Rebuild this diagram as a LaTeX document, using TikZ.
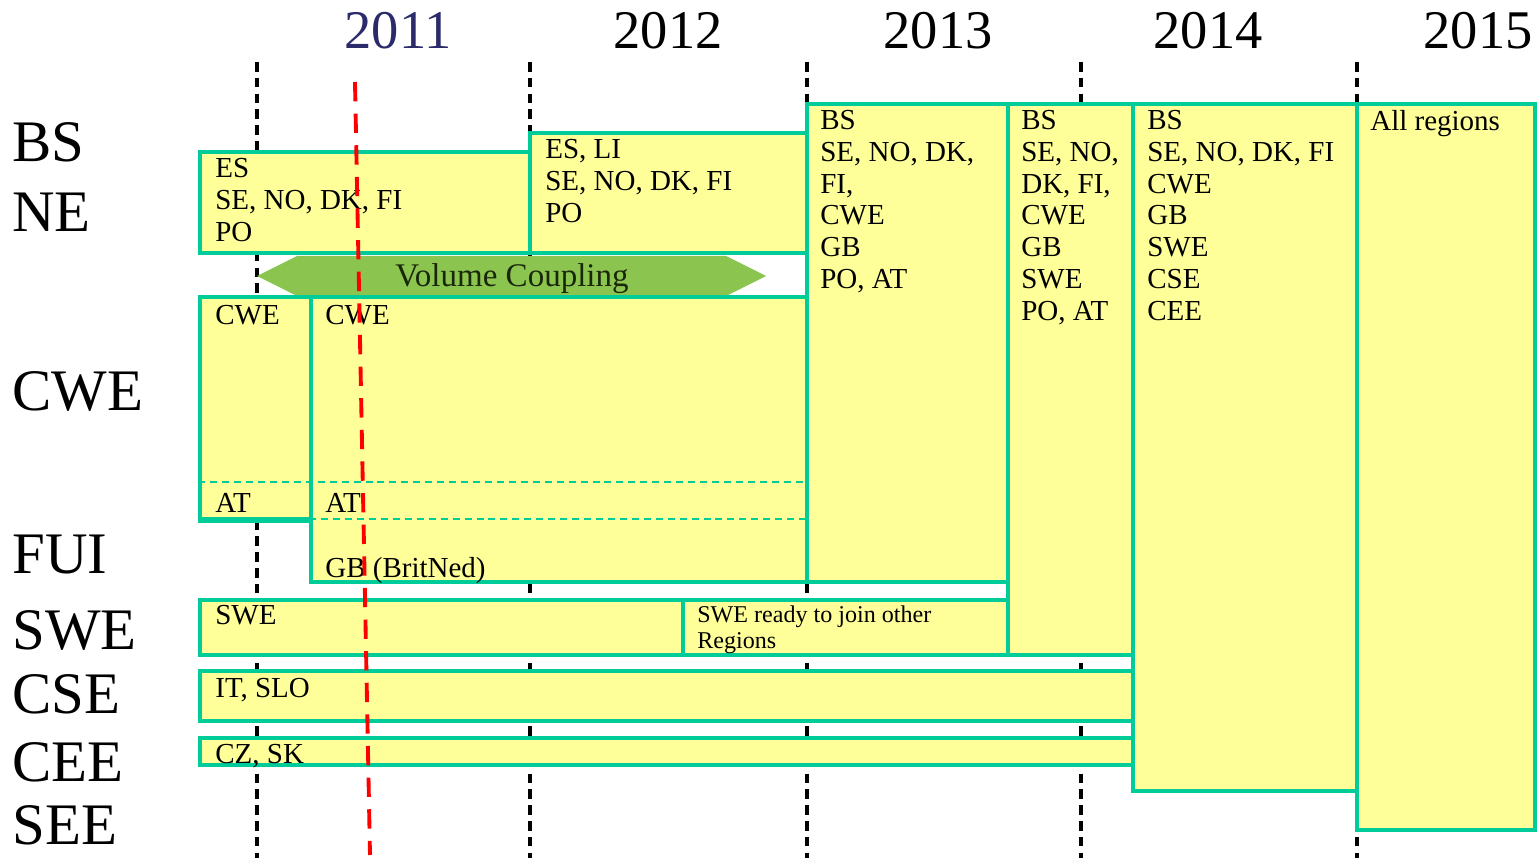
\documentclass[tikz,border=0pt]{standalone}
\usepackage{fontspec}
\setmainfont{Liberation Serif}
\usetikzlibrary{fit}
\definecolor{yel}{HTML}{FFFF99}
\definecolor{tealb}{HTML}{00CC99}
\definecolor{vcgreen}{HTML}{8CC450}
\definecolor{navy}{HTML}{2B2B6B}
\tikzset{
  box/.style={draw=tealb, fill=yel, line width=2pt, inner sep=0pt},
  txt/.style={anchor=north west, inner sep=0pt, align=left, font=\fontsize{16.5}{18.1}\selectfont},
  smalltxt/.style={anchor=north west, inner sep=0pt, align=left, font=\fontsize{13.7}{15.3}\selectfont},
  rowlab/.style={anchor=west, inner sep=0pt, font=\fontsize{33.5}{36}\selectfont},
  yearlab/.style={anchor=center, inner sep=0pt, font=\fontsize{31}{36}\selectfont},
  yearline/.style={line width=2.1pt, dash pattern=on 5.5pt off 3.5pt},
  tealdash/.style={draw=tealb, line width=1pt, dash pattern=on 4pt off 2.8pt},
  redline/.style={draw=red, line width=2.2pt, dash pattern=on 11pt off 7pt}
}
\begin{document}
\begin{tikzpicture}[x=0.02cm, y=-0.02cm]
\useasboundingbox[fill=white] (0,0) rectangle (1539,858);

% year labels
\node[yearlab, text=navy] (y11) at (398,31) {2011};
\node[yearlab] (y12) at (668,31) {2012};
\node[yearlab] (y13) at (938,31) {2013};
\node[yearlab] (y14) at (1208,31) {2014};
\node[yearlab] (y15) at (1478,31) {2015};

% year boundaries
\foreach \xx/\nm in {257/a,530/b,807/c,1081/d,1357/e}{
  \coordinate (t\nm) at (\xx,62);
  \coordinate (b\nm) at (\xx,858);
  \draw[yearline] (t\nm) -- (b\nm);
}

% row labels
\node[rowlab] (lbs) at (12,142) {BS};
\node[rowlab] (lne) at (12,212) {NE};
\node[rowlab] (lcwe) at (12,391) {CWE};
\node[rowlab] (lfui) at (12,555) {FUI};
\node[rowlab] (lswe) at (12,630) {SWE};
\node[rowlab] (lcse) at (12,694) {CSE};
\node[rowlab] (lcee) at (12,762) {CEE};
\node[rowlab] (lsee) at (12,825) {SEE};

% volume coupling arrow
\fill[vcgreen] (257,276) -- (297,256) -- (726,256) -- (766,276) -- (726,296) -- (297,296) -- cycle;
\node[anchor=base, inner sep=0pt, font=\fontsize{18.8}{20}\selectfont, text={rgb,255:red,26;green,40;blue,10}] (vc) at (512,287) {Volume Coupling};

% boxes
\node[box, fit={(807,104)(1008,582)}] (c13) {};
\node[box, fit={(1008,104)(1133,655)}] (c14a) {};
\node[box, fit={(1133,104)(1357,791)}] (c14b) {};
\node[box, fit={(1357,104)(1535,830)}] (c15) {};
\node[box, fit={(200,152)(530,253)}] (ne11) {};
\node[box, fit={(530,133)(807,253)}] (ne12) {};
\node[box, fit={(311,297)(807,582)}] (cwe12) {};
\node[box, fit={(200,297)(311,519)}] (cwe11) {};
\node[box, fit={(200,600)(683,655)}] (swe1) {};
\node[box, fit={(683,600)(1008,655)}] (swe2) {};
\node[box, fit={(200,671)(1133,721)}] (cse) {};
\node[box, fit={(200,738)(1133,765)}] (cee) {};

\draw[tealdash] (cwe11.west |- 0,482) -- (cwe12.east |- 0,482);
\draw[tealdash] (cwe12.west |- 0,519) -- (cwe12.east |- 0,519);
\draw[draw=tealb, line width=2pt] (cwe11.south west) -- (cwe11.south east);

% texts
\node[txt] (tne11) at (215,158) {ES\\SE, NO, DK, FI\\PO};
\node[txt] (tne12) at (545,139) {ES, LI\\SE, NO, DK, FI\\PO};
\node[txt] (tcwe11) at (215,305) {CWE};
\node[txt] (tat11) at (215,493) {AT};
\node[txt] (tcwe12) at (325,305) {CWE};
\node[txt] (tat12) at (325,493) {AT};
\node[txt] (tgb12) at (325,557) {GB (BritNed)};
\node[txt] (t13) at (820,110) {BS\\SE, NO, DK,\\FI,\\CWE\\GB\\PO, AT};
\node[txt] (t14a) at (1021,110) {BS\\SE, NO,\\DK, FI,\\CWE\\GB\\SWE\\PO, AT};
\node[txt] (t14b) at (1147,110) {BS\\SE, NO, DK, FI\\CWE\\GB\\SWE\\CSE\\CEE};
\node[txt] (t15) at (1370,110) {All regions};
\node[txt] (tswe) at (215,605) {SWE};
\node[smalltxt] (tswe2) at (697,605) {SWE ready to join other\\Regions};
\node[txt] (tcse) at (215,678) {IT, SLO};
\node[txt] (tcee) at (215,744) {CZ, SK};

% today line
\coordinate (rtop) at (355,82);
\coordinate (rbot) at (370,855);
\draw[redline] (rtop) -- (rbot);
\end{tikzpicture}
\end{document}
